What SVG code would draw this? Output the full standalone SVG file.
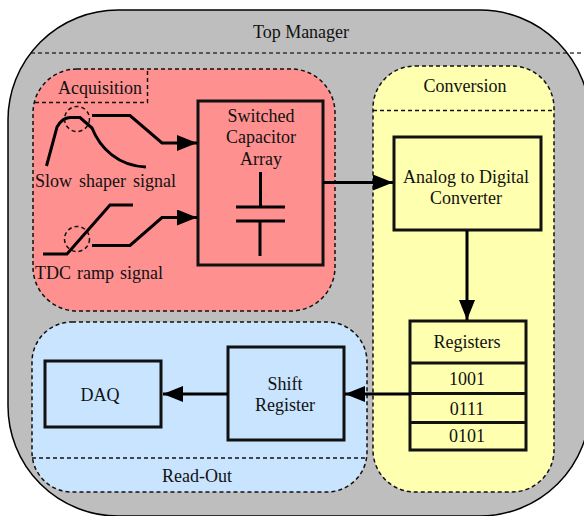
<svg xmlns="http://www.w3.org/2000/svg" width="584" height="516" viewBox="0 0 584 516">
<defs>
<marker id="ah" markerUnits="userSpaceOnUse" markerWidth="22" markerHeight="18" refX="20" refY="8" orient="auto"><path d="M0 0L20 8L0 16Z" fill="#000"/></marker>
</defs>
<style>
text{font-family:"Liberation Serif","Times New Roman",serif;font-size:18px;fill:#111;text-anchor:middle}
.l{text-anchor:start}
.d{fill:none;stroke:#111;stroke-width:1.5;stroke-dasharray:4 3}
.b{stroke:#111;stroke-width:3}
.w{fill:none;stroke:#000;stroke-width:3}
.a{fill:none;stroke:#000;stroke-width:3;marker-end:url(#ah)}
</style>
<rect width="584" height="516" fill="#fff"/>
<g id="top-manager">
<rect x="8" y="10" width="582" height="506" rx="110" ry="110" fill="#bebebe" stroke="#000" stroke-width="1.5"/>
<path class="d" d="M31 53H584" stroke-opacity="0.8"/>
<text x="301" y="38">Top Manager</text>
</g>
<g id="acquisition">
<rect x="33" y="69" width="302" height="242" rx="44" ry="44" fill="#ff9090" stroke="#111" stroke-width="1.5" stroke-dasharray="4 3"/>
<path class="d" d="M35 102.500H147.500V69"/>
<text x="100" y="94">Acquisition</text>
<text class="l" x="35" y="187" word-spacing="2.500">Slow shaper signal</text>
<text class="l" x="35" y="279" word-spacing="1.500">TDC ramp signal</text>
<path class="w" d="M46.500 166L57 127Q62 118 70 117.500H80L92 128C100 148 118 166 146 167"/>
<path class="w" d="M43 254H67L110 205H133"/>
<circle class="d" cx="77" cy="119" r="12.500"/>
<circle class="d" cx="77" cy="239" r="12.500"/>
</g>
<g id="switched-capacitor-array">
<rect class="b" x="198" y="101" width="125" height="164" fill="none"/>
<text x="261" y="122">Switched</text>
<text x="261" y="143">Capacitor</text>
<text x="261" y="165">Array</text>
<path class="w" d="M260.500 172V206M236 207H285M236 221H285M260 221V256"/>
</g>
<g id="conversion">
<rect x="373" y="66" width="181" height="426" rx="42" ry="42" fill="#ffffb0" stroke="#111" stroke-width="1.5" stroke-dasharray="4 3"/>
<path class="d" d="M373 110.500H554"/>
<text x="465" y="92">Conversion</text>
</g>
<g id="adc">
<rect class="b" x="394" y="137" width="147" height="93" fill="none"/>
<text x="466" y="183">Analog to Digital</text>
<text x="466" y="204">Converter</text>
</g>
<g id="registers">
<rect class="b" x="410" y="321" width="116" height="129" fill="none"/>
<path class="b" d="M410 363H526M410 393.500H526M410 422.500H526"/>
<text x="467" y="348">Registers</text>
<text x="467" y="385">1001</text>
<text x="467" y="415">0111</text>
<text x="467" y="442">0101</text>
</g>
<g id="read-out">
<rect x="32" y="322" width="335" height="170" rx="40" ry="40" fill="#c8e4ff" stroke="#111" stroke-width="1.5" stroke-dasharray="4 3"/>
<path class="d" d="M32 458H367"/>
<text x="197" y="482">Read-Out</text>
</g>
<g id="daq">
<rect class="b" x="45" y="361" width="116" height="66" fill="none"/>
<text x="100" y="401">DAQ</text>
</g>
<g id="shift-register">
<rect class="b" x="228" y="347" width="116" height="93" fill="none"/>
<text x="285" y="390">Shift</text>
<text x="285" y="411">Register</text>
</g>
<g id="connectors">
<path class="a" d="M92 115.500H130L162 143H197"/>
<path class="a" d="M92 245.500H130L162 217.500H197"/>
<path class="a" d="M323 182.500H393"/>
<path class="a" d="M467 231V320"/>
<path class="a" d="M410 394H345"/>
<path class="a" d="M228 394H163"/>
</g>
</svg>
